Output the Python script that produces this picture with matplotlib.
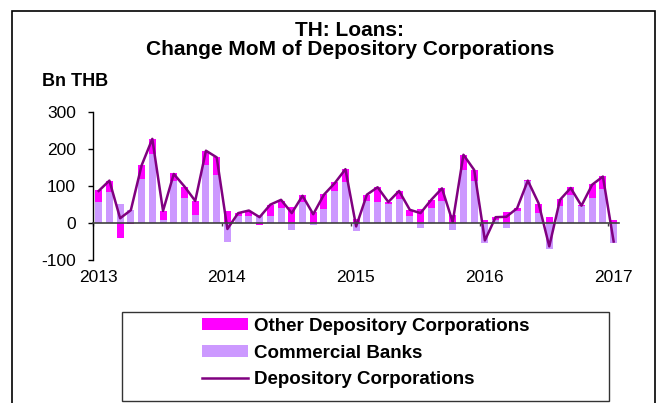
import numpy as np
import matplotlib
matplotlib.use('Agg')
import matplotlib.pyplot as plt
from matplotlib.patches import Rectangle, Patch
from matplotlib.lines import Line2D

plt.rcParams['font.family'] = ['Liberation Sans', 'DejaVu Sans']
plt.rcParams['axes.unicode_minus'] = False

# monthly data, Jan 2013 .. Jan 2017 (Bn THB)
years = ['2013', '2014', '2015', '2016', '2017']
cb = [58, 83, 52, 36, 120, 186, 7, 113, 68, 23, 158, 131,
      -50, 20, 20, 21, 20, 42, -18, 58, -6, 39, 88, 110,
      -22, 60, 56, 52, 65, 20, -13, 42, 61, -20, 144, 115,
      -54, 9, -13, 33, 113, 27, -70, 45, 77, 45, 69, 92,
      -54]
other = [32, 31, -40, -2, 36, 42, 26, 22, 31, 38, 38, 49,
         33, 7, 12, -5, 30, 19, 43, 17, 30, 39, 22, 36,
         12, 17, 41, 5, 23, 16, 39, 21, 34, 22, 41, 29,
         9, 7, 31, 9, 4, 25, 16, 20, 20, 3, 36, 36,
         7]
dc = [87, 115, 13, 35, 156, 228, 33, 133, 99, 60, 196, 178,
      -16, 27, 34, 16, 50, 63, 27, 74, 24, 77, 108, 146,
      -9, 77, 97, 57, 87, 36, 27, 63, 94, 3, 185, 144,
      -47, 16, 17, 40, 115, 54, -63, 63, 95, 47, 104, 126,
      -50]

c_cb = '#CC99FF'
c_oth = '#FF00FF'
c_dc = '#800080'

W, H = 667, 403
fig = plt.figure(figsize=(W/100, H/100), dpi=100)
ax = fig.add_axes([93.3/W, (H-260)/H, (619-93.3)/W, 147.7/H])

x = np.arange(len(cb))
cb = np.array(cb, dtype=float)
other = np.array(other, dtype=float)

# stack by sign, like excel
pos = np.zeros(len(x))
neg = np.zeros(len(x))
for vals, col in [(cb, c_cb), (other, c_oth)]:
    bot = np.where(vals >= 0, pos, neg)
    ax.bar(x, vals, 0.65, bottom=bot, color=col, linewidth=0, zorder=2)
    pos = pos + np.where(vals >= 0, vals, 0)
    neg = neg + np.where(vals < 0, vals, 0)

ax.plot(x, dc, color=c_dc, lw=1.8, zorder=3)

ax.set_xlim(-0.5, len(x) - 0.5)
ax.set_ylim(-100, 300)
ax.set_yticks([-100, 0, 100, 200, 300])
# tick marks on year boundaries, labels a bit to the right
ax.set_xticks([12*k - 0.5 for k in range(len(years))])
ax.set_xticklabels([])
ax.set_xticks([12*k - 0.05 for k in range(len(years))], minor=True)
ax.set_xticklabels(years, minor=True)

for s in ['top', 'right']:
    ax.spines[s].set_visible(False)
ax.spines['bottom'].set_position(('data', 0))
ax.spines['bottom'].set_color('#404040')
ax.spines['bottom'].set_linewidth(1.2)
ax.spines['bottom'].set_zorder(4)
ax.spines['left'].set_linewidth(1.0)
ax.tick_params(axis='y', direction='out', length=3.5, width=1.0, pad=9, labelsize=12.5)
ax.tick_params(axis='x', which='major', direction='out', length=2.5, width=1.0, color='#404040')
ax.tick_params(axis='x', which='minor', length=0, pad=33.5, labelsize=12.5)

fig.text(350/W, 1 - 40/H, 'TH: Loans:\nChange MoM of Depository Corporations',
         ha='center', va='center', fontsize=15, fontweight='bold', linespacing=0.98)
fig.text(42/W, 1 - 81/H, 'Bn THB', ha='left', va='center', fontsize=13, fontweight='bold')

# outer frame and legend box
fig.patches.append(Rectangle((12/W, -0.01), (655-12)/W, 1 - 11/H + 0.01, transform=fig.transFigure,
                             fill=False, ec='black', lw=1.2))
fig.patches.append(Rectangle((122/W, (H-401)/H), (609-122)/W, 89/H, transform=fig.transFigure,
                             fill=False, ec='#333333', lw=1.0))

handles = [Patch(facecolor=c_oth, edgecolor='none'),
           Patch(facecolor=c_cb, edgecolor='none'),
           Line2D([], [], color=c_dc, lw=1.8)]
labels = ['Other Depository Corporations', 'Commercial Banks', 'Depository Corporations']
leg = fig.legend(handles, labels, loc='center', bbox_to_anchor=(366/W, 1 - 353/H),
                 frameon=False, prop={'weight': 'bold', 'size': 13.5},
                 handlelength=2.45, handleheight=0.55, handletextpad=0.3, labelspacing=0.52)

fig.savefig('out.png', dpi=100)
